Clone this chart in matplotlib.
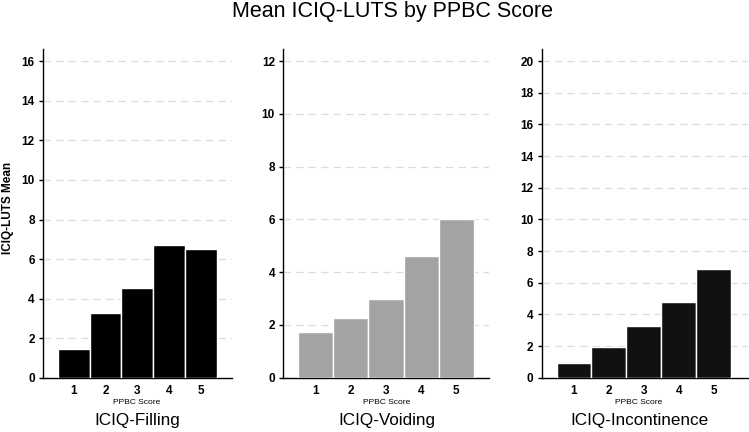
import matplotlib
matplotlib.use("Agg")
import matplotlib.pyplot as plt
import numpy as np

plt.rcParams['font.family'] = ['Liberation Sans', 'DejaVu Sans']

scores = [1, 2, 3, 4, 5]
filling = [1.45, 3.28, 4.52, 6.70, 6.52]
voiding = [1.72, 2.26, 3.00, 4.60, 6.00]
incontinence = [0.90, 1.92, 3.26, 4.80, 6.85]

panel_titles = ["ICIQ-Filling", "ICIQ-Voiding", "ICIQ-Incontinence"]
panel_values = [filling, voiding, incontinence]
panel_colors = ["#000000", "#a3a3a3", "#111111"]
panel_yticks = [np.arange(0, 17, 2), np.arange(0, 13, 2), np.arange(0, 21, 2)]
panel_xlims = [(0.04, 5.97), (0.08, 5.93), (0.076, 5.98)]

W, H = 749, 432
fig = plt.figure(figsize=(W / 100, H / 100), dpi=100)

# pixel boxes (left, right, top, bottom)
boxes = [(43, 232, 49.3, 378), (283.3, 489, 49.3, 377.7), (541.7, 748, 49.3, 377.7)]
title_cx = [137, 387, 639]

for box, vals, col, yt, xl, ttl, tcx in zip(boxes, panel_values, panel_colors,
                                             panel_yticks, panel_xlims, panel_titles, title_cx):
    l, r, t, b = box
    ax = fig.add_axes([l / W, (H - b) / H, (r - l) / W, (b - t) / H])
    ax.bar(scores, vals, width=1.0, color=col, edgecolor="white", linewidth=1.0, zorder=3)
    ax.set_xlim(*xl)
    ax.set_ylim(0, yt[-1] * 1.037)
    ax.set_yticks(yt)
    ax.set_xticks(scores)
    for y in yt[1:]:
        ax.axhline(y, color="#dcdcdc", linestyle=(0, (6, 4)), linewidth=0.9, zorder=1)
    for s in ["top", "right"]:
        ax.spines[s].set_visible(False)
    for s in ["left", "bottom"]:
        ax.spines[s].set_linewidth(1.0)
        ax.spines[s].set_color("black")
    ax.tick_params(axis="y", direction="out", length=3, width=1.0, labelsize=8.5, pad=3)
    ax.tick_params(axis="x", length=0, labelsize=8.5, pad=5)
    for lab in ax.get_xticklabels() + ax.get_yticklabels():
        lab.set_fontweight("bold")
    cx = (l + r) / 2
    fig.text(tcx / W, 1 - 403 / H, "PPBC Score", ha="center", va="center", fontsize=6)
    fig.text(tcx / W, 1 - 421 / H, ttl, ha="center", va="center", fontsize=12.3)

fig.text(8.5 / W, 1 - 207.5 / H, "ICIQ-LUTS Mean", rotation=90, ha="center", va="center",
         fontsize=8.5, fontweight="bold")
fig.text(393 / W, 1 - 17 / H, "Mean ICIQ-LUTS by PPBC Score", ha="center", va="baseline",
         fontsize=15.5)

fig.savefig("out.png", dpi=100)
